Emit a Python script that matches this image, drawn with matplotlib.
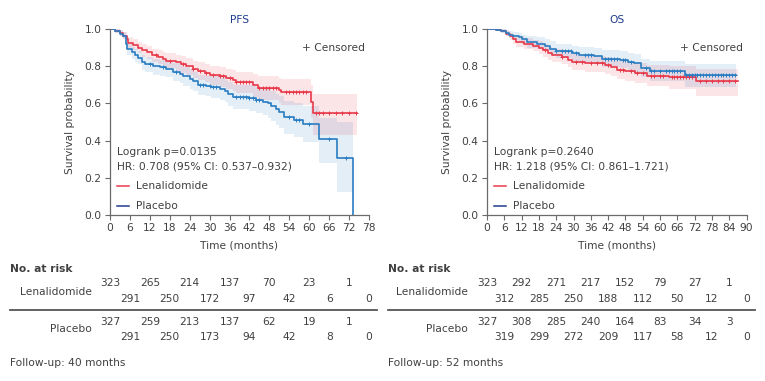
import numpy as np
import matplotlib
matplotlib.use("Agg")
import matplotlib.pyplot as plt
from matplotlib.transforms import blended_transform_factory

plt.rcParams['font.family'] = ['DejaVu Sans']

# ---------------- data ----------------
# PFS
pfs_len_t = [0, 1.5, 3, 4, 5, 5.5, 7, 8.5, 9.5, 11, 12.5, 14.5, 16, 17, 20, 21.5, 23, 25, 26.5, 28.5,
             30, 33, 35, 37, 38, 43, 44.5, 51, 51.5, 60.5, 61.2, 74.5]
pfs_len_s = [1.0, 0.99, 0.98, 0.965, 0.945, 0.925, 0.915, 0.90, 0.885, 0.875, 0.86, 0.85, 0.84, 0.83, 0.82,
             0.81, 0.80, 0.785, 0.775, 0.765, 0.755, 0.745, 0.735, 0.725, 0.715, 0.70, 0.685, 0.67, 0.66,
             0.61, 0.55, 0.55]
pfs_len_lo = [1.0, 0.98, 0.965, 0.945, 0.92, 0.90, 0.885, 0.87, 0.85, 0.84, 0.82, 0.81, 0.80, 0.79, 0.775,
              0.765, 0.755, 0.735, 0.725, 0.715, 0.70, 0.69, 0.68, 0.665, 0.655, 0.635, 0.62, 0.60, 0.59,
              0.52, 0.43, 0.43]
pfs_len_hi = [1.0, 1.0, 0.995, 0.985, 0.97, 0.955, 0.945, 0.93, 0.92, 0.91, 0.895, 0.885, 0.875, 0.87,
              0.86, 0.855, 0.845, 0.83, 0.82, 0.81, 0.80, 0.795, 0.785, 0.78, 0.77, 0.76, 0.745, 0.735,
              0.73, 0.70, 0.65, 0.65]
pfs_len_cens = [14, 18, 22, 25, 27, 29, 31, 33, 34, 36, 38, 39, 40, 41, 42, 45, 46, 47, 48, 49, 50, 53,
                54, 55, 56, 57, 58, 59, 62, 63, 64, 66, 68, 70, 72, 74]

pfs_pla_t = [0, 1.5, 3, 4, 4.8, 5.2, 6.5, 7.5, 8.5, 9.5, 10.5, 13, 15, 17, 19, 21, 22, 24, 25, 26.5, 29,
             30.5, 33, 34.5, 35.5, 37, 42, 44, 46, 47.5, 48.5, 50, 51, 52.5, 55.5, 58, 63, 68.5, 73.2]
pfs_pla_s = [1.0, 0.99, 0.975, 0.965, 0.92, 0.89, 0.875, 0.86, 0.845, 0.82, 0.81, 0.80, 0.795, 0.785,
             0.77, 0.76, 0.745, 0.73, 0.72, 0.70, 0.695, 0.69, 0.68, 0.665, 0.65, 0.635, 0.63, 0.62, 0.61,
             0.60, 0.585, 0.57, 0.555, 0.525, 0.51, 0.49, 0.41, 0.305, 0.0]
pfs_pla_lo = [1.0, 0.98, 0.96, 0.945, 0.895, 0.86, 0.84, 0.825, 0.81, 0.78, 0.77, 0.755, 0.75, 0.74,
              0.72, 0.71, 0.695, 0.68, 0.665, 0.645, 0.64, 0.63, 0.62, 0.605, 0.585, 0.57, 0.56, 0.55,
              0.535, 0.52, 0.505, 0.485, 0.47, 0.435, 0.42, 0.39, 0.28, 0.125, 0.0]
pfs_pla_hi = [1.0, 1.0, 0.99, 0.985, 0.945, 0.92, 0.905, 0.895, 0.88, 0.86, 0.85, 0.84, 0.835, 0.83,
              0.815, 0.805, 0.795, 0.78, 0.77, 0.755, 0.75, 0.745, 0.74, 0.725, 0.715, 0.70, 0.70, 0.69,
              0.685, 0.675, 0.665, 0.65, 0.64, 0.615, 0.60, 0.585, 0.52, 0.50, 0.0]
pfs_pla_cens = [12, 16, 20, 27, 28, 30, 31, 32, 38, 39, 40, 41, 42, 43, 44, 45, 54, 56, 57, 60, 66, 71]

# OS
os_len_t = [0, 3, 5, 6.5, 8, 9, 10, 13, 16, 18, 19.5, 21, 22.5, 26, 28, 29.5, 34, 41, 43, 45, 48, 51.5,
            55.5, 63, 72.5, 87]
os_len_s = [1.0, 0.995, 0.99, 0.975, 0.96, 0.945, 0.93, 0.92, 0.91, 0.90, 0.885, 0.87, 0.86, 0.85, 0.835,
            0.825, 0.815, 0.805, 0.795, 0.78, 0.775, 0.765, 0.75, 0.74, 0.72, 0.72]
os_len_lo = [1.0, 0.99, 0.98, 0.96, 0.94, 0.92, 0.905, 0.89, 0.88, 0.865, 0.85, 0.835, 0.82, 0.81, 0.795,
             0.78, 0.77, 0.76, 0.745, 0.73, 0.72, 0.71, 0.695, 0.68, 0.64, 0.64]
os_len_hi = [1.0, 1.0, 1.0, 0.99, 0.98, 0.97, 0.96, 0.95, 0.94, 0.935, 0.92, 0.905, 0.895, 0.885, 0.875,
             0.865, 0.855, 0.85, 0.84, 0.83, 0.825, 0.815, 0.805, 0.80, 0.785, 0.785]
os_len_cens = [20, 26, 31, 33, 36, 38, 40, 42, 46, 47, 50, 52, 54, 57, 58, 60, 61, 64, 65, 66, 67, 68, 69,
               70, 71, 74, 76, 78, 80, 82, 84, 86]

os_pla_t = [0, 3, 5, 6.5, 7.5, 9, 11, 12, 14, 17.5, 20, 22, 24, 29.5, 32, 37, 40, 46, 49, 51, 53.5, 56.5,
            68.5, 86.5]
os_pla_s = [1.0, 0.995, 0.99, 0.98, 0.97, 0.96, 0.955, 0.945, 0.93, 0.92, 0.91, 0.895, 0.88, 0.87, 0.86,
            0.855, 0.84, 0.835, 0.825, 0.815, 0.79, 0.775, 0.755, 0.755]
os_pla_lo = [1.0, 0.99, 0.98, 0.965, 0.95, 0.94, 0.93, 0.92, 0.90, 0.89, 0.88, 0.86, 0.845, 0.83, 0.82,
             0.81, 0.795, 0.79, 0.775, 0.765, 0.74, 0.72, 0.69, 0.69]
os_pla_hi = [1.0, 1.0, 1.0, 0.995, 0.99, 0.985, 0.98, 0.97, 0.96, 0.955, 0.945, 0.935, 0.92, 0.91, 0.905,
             0.90, 0.885, 0.88, 0.87, 0.865, 0.84, 0.83, 0.81, 0.81]
os_pla_cens = [24, 26, 27, 28, 29, 31, 34, 35, 36, 41, 42, 43, 44, 45, 47, 48, 50, 55, 57, 58, 60, 62, 63,
               64, 65, 66, 67, 69, 70, 71, 72, 73, 74, 75, 76, 77, 78, 79, 80, 81, 82, 83, 84, 85, 86]

# risk tables
pfs_risk_times = [0, 6, 12, 18, 24, 30, 36, 42, 48, 54, 60, 66, 72, 78]
pfs_risk_len = [323, 291, 265, 250, 214, 172, 137, 97, 70, 42, 23, 6, 1, 0]
pfs_risk_pla = [327, 291, 259, 250, 213, 173, 137, 94, 62, 42, 19, 8, 1, 0]
os_risk_times = [0, 6, 12, 18, 24, 30, 36, 42, 48, 54, 60, 66, 72, 78, 84, 90]
os_risk_len = [323, 312, 292, 285, 271, 250, 217, 188, 152, 112, 79, 50, 27, 12, 1, 0]
os_risk_pla = [327, 319, 308, 299, 285, 272, 240, 209, 164, 117, 83, 58, 34, 12, 3, 0]

# ---------------- style ----------------
RED = "#e8394a"
BLUE = "#2a7dc2"
NAVY = "#1f3d8c"
TXT = "#404040"
GREY = "#6b6b6b"
FS = 7.7

W, H = 765, 381
fig = plt.figure(figsize=(W / 100, H / 100), dpi=100)


def px_ax(x0, x1, ytop, ybot):
    return [x0 / W, 1 - ybot / H, (x1 - x0) / W, (ybot - ytop) / H]


def step_val(t, s, x):
    t = np.asarray(t); s = np.asarray(s)
    i = np.searchsorted(t, x, side='right') - 1
    return s[np.clip(i, 0, len(s) - 1)]


def draw_panel(ax, title, xmax, curves, logrank, hr):
    for (t, s, lo, hi, cens, col) in curves:
        ax.fill_between(t, lo, hi, step='post', color=col, alpha=0.13, lw=0)
        ax.step(t, s, where='post', color=col, lw=1.2)
        cy = step_val(t, s, np.asarray(cens, float))
        ax.plot(cens, cy, ls='none', marker='+', color=col, ms=3.2, mew=0.7)
    ax.set_xlim(0, xmax)
    ax.set_ylim(0, 1.0)
    ax.set_xticks(np.arange(0, xmax + 1, 6))
    ax.set_yticks(np.arange(0, 1.01, 0.2))
    ax.set_yticklabels([f"{v:.1f}" for v in np.arange(0, 1.01, 0.2)])
    for sp in ['top', 'right']:
        ax.spines[sp].set_visible(False)
    for sp in ['left', 'bottom']:
        ax.spines[sp].set_color(GREY)
        ax.spines[sp].set_linewidth(0.9)
    ax.tick_params(colors=GREY, labelcolor=TXT, labelsize=FS, length=3.5, width=0.8, pad=2.5)
    ax.set_title(title, color=NAVY, fontsize=FS, pad=4)
    ax.set_xlabel("Time (months)", color=TXT, fontsize=FS, labelpad=5)
    ax.set_ylabel("Survival probability", color=TXT, fontsize=FS, labelpad=7)
    ax.text(0.985, 0.898, "+ Censored", transform=ax.transAxes, ha='right', va='center',
            color=TXT, fontsize=FS)
    ax.text(0.027, 0.339, logrank, transform=ax.transAxes, ha='left', va='center', color=TXT, fontsize=FS)
    ax.text(0.027, 0.260, hr, transform=ax.transAxes, ha='left', va='center', color=TXT, fontsize=FS)
    ax.plot([0.027, 0.075], [0.156, 0.156], transform=ax.transAxes, color=RED, lw=1.1, clip_on=False)
    ax.plot([0.027, 0.075], [0.048, 0.048], transform=ax.transAxes, color=NAVY, lw=1.1, clip_on=False)
    ax.text(0.10, 0.156, "Lenalidomide", transform=ax.transAxes, ha='left', va='center',
            color=TXT, fontsize=FS)
    ax.text(0.10, 0.048, "Placebo", transform=ax.transAxes, ha='left', va='center',
            color=TXT, fontsize=FS)


def risk_table(ax, times, r_len, r_pla, xleft, xlabel_r, xline_r, follow):
    tr = blended_transform_factory(ax.transData, fig.transFigure)
    fy = lambda p: 1 - p / H
    fig.text(xleft / W, fy(269), "No. at risk", fontweight='bold', color=TXT, fontsize=FS,
             ha='left', va='center')
    fig.text(xlabel_r / W, fy(292), "Lenalidomide", color=TXT, fontsize=FS, ha='right', va='center')
    fig.text(xlabel_r / W, fy(329), "Placebo", color=TXT, fontsize=FS, ha='right', va='center')
    for i, (t, a, b) in enumerate(zip(times, r_len, r_pla)):
        ya, yb = (283, 322) if i % 2 == 0 else (299, 337)
        ax.text(t, fy(ya), str(a), transform=tr, ha='center', va='center', color=TXT, fontsize=FS,
                clip_on=False)
        ax.text(t, fy(yb), str(b), transform=tr, ha='center', va='center', color=TXT, fontsize=FS,
                clip_on=False)
    fig.add_artist(plt.Line2D([xleft / W, xline_r / W], [fy(310), fy(310)], color="#555555", lw=1.3))
    fig.text(xleft / W, fy(363), follow, color=TXT, fontsize=FS, ha='left', va='center')


ax1 = fig.add_axes(px_ax(110, 369, 29, 215))
draw_panel(ax1, "PFS", 78,
           [(pfs_len_t, pfs_len_s, pfs_len_lo, pfs_len_hi, pfs_len_cens, RED),
            (pfs_pla_t, pfs_pla_s, pfs_pla_lo, pfs_pla_hi, pfs_pla_cens, BLUE)],
           "Logrank p=0.0135", "HR: 0.708 (95% CI: 0.537\u20130.932)")
risk_table(ax1, pfs_risk_times, pfs_risk_len, pfs_risk_pla, 10, 92, 377, "Follow-up: 40 months")

ax2 = fig.add_axes(px_ax(487, 746.5, 29, 215))
draw_panel(ax2, "OS", 90,
           [(os_len_t, os_len_s, os_len_lo, os_len_hi, os_len_cens, RED),
            (os_pla_t, os_pla_s, os_pla_lo, os_pla_hi, os_pla_cens, BLUE)],
           "Logrank p=0.2640", "HR: 1.218 (95% CI: 0.861\u20131.721)")
risk_table(ax2, os_risk_times, os_risk_len, os_risk_pla, 388, 468, 755, "Follow-up: 52 months")

fig.savefig("out.png", dpi=100)
